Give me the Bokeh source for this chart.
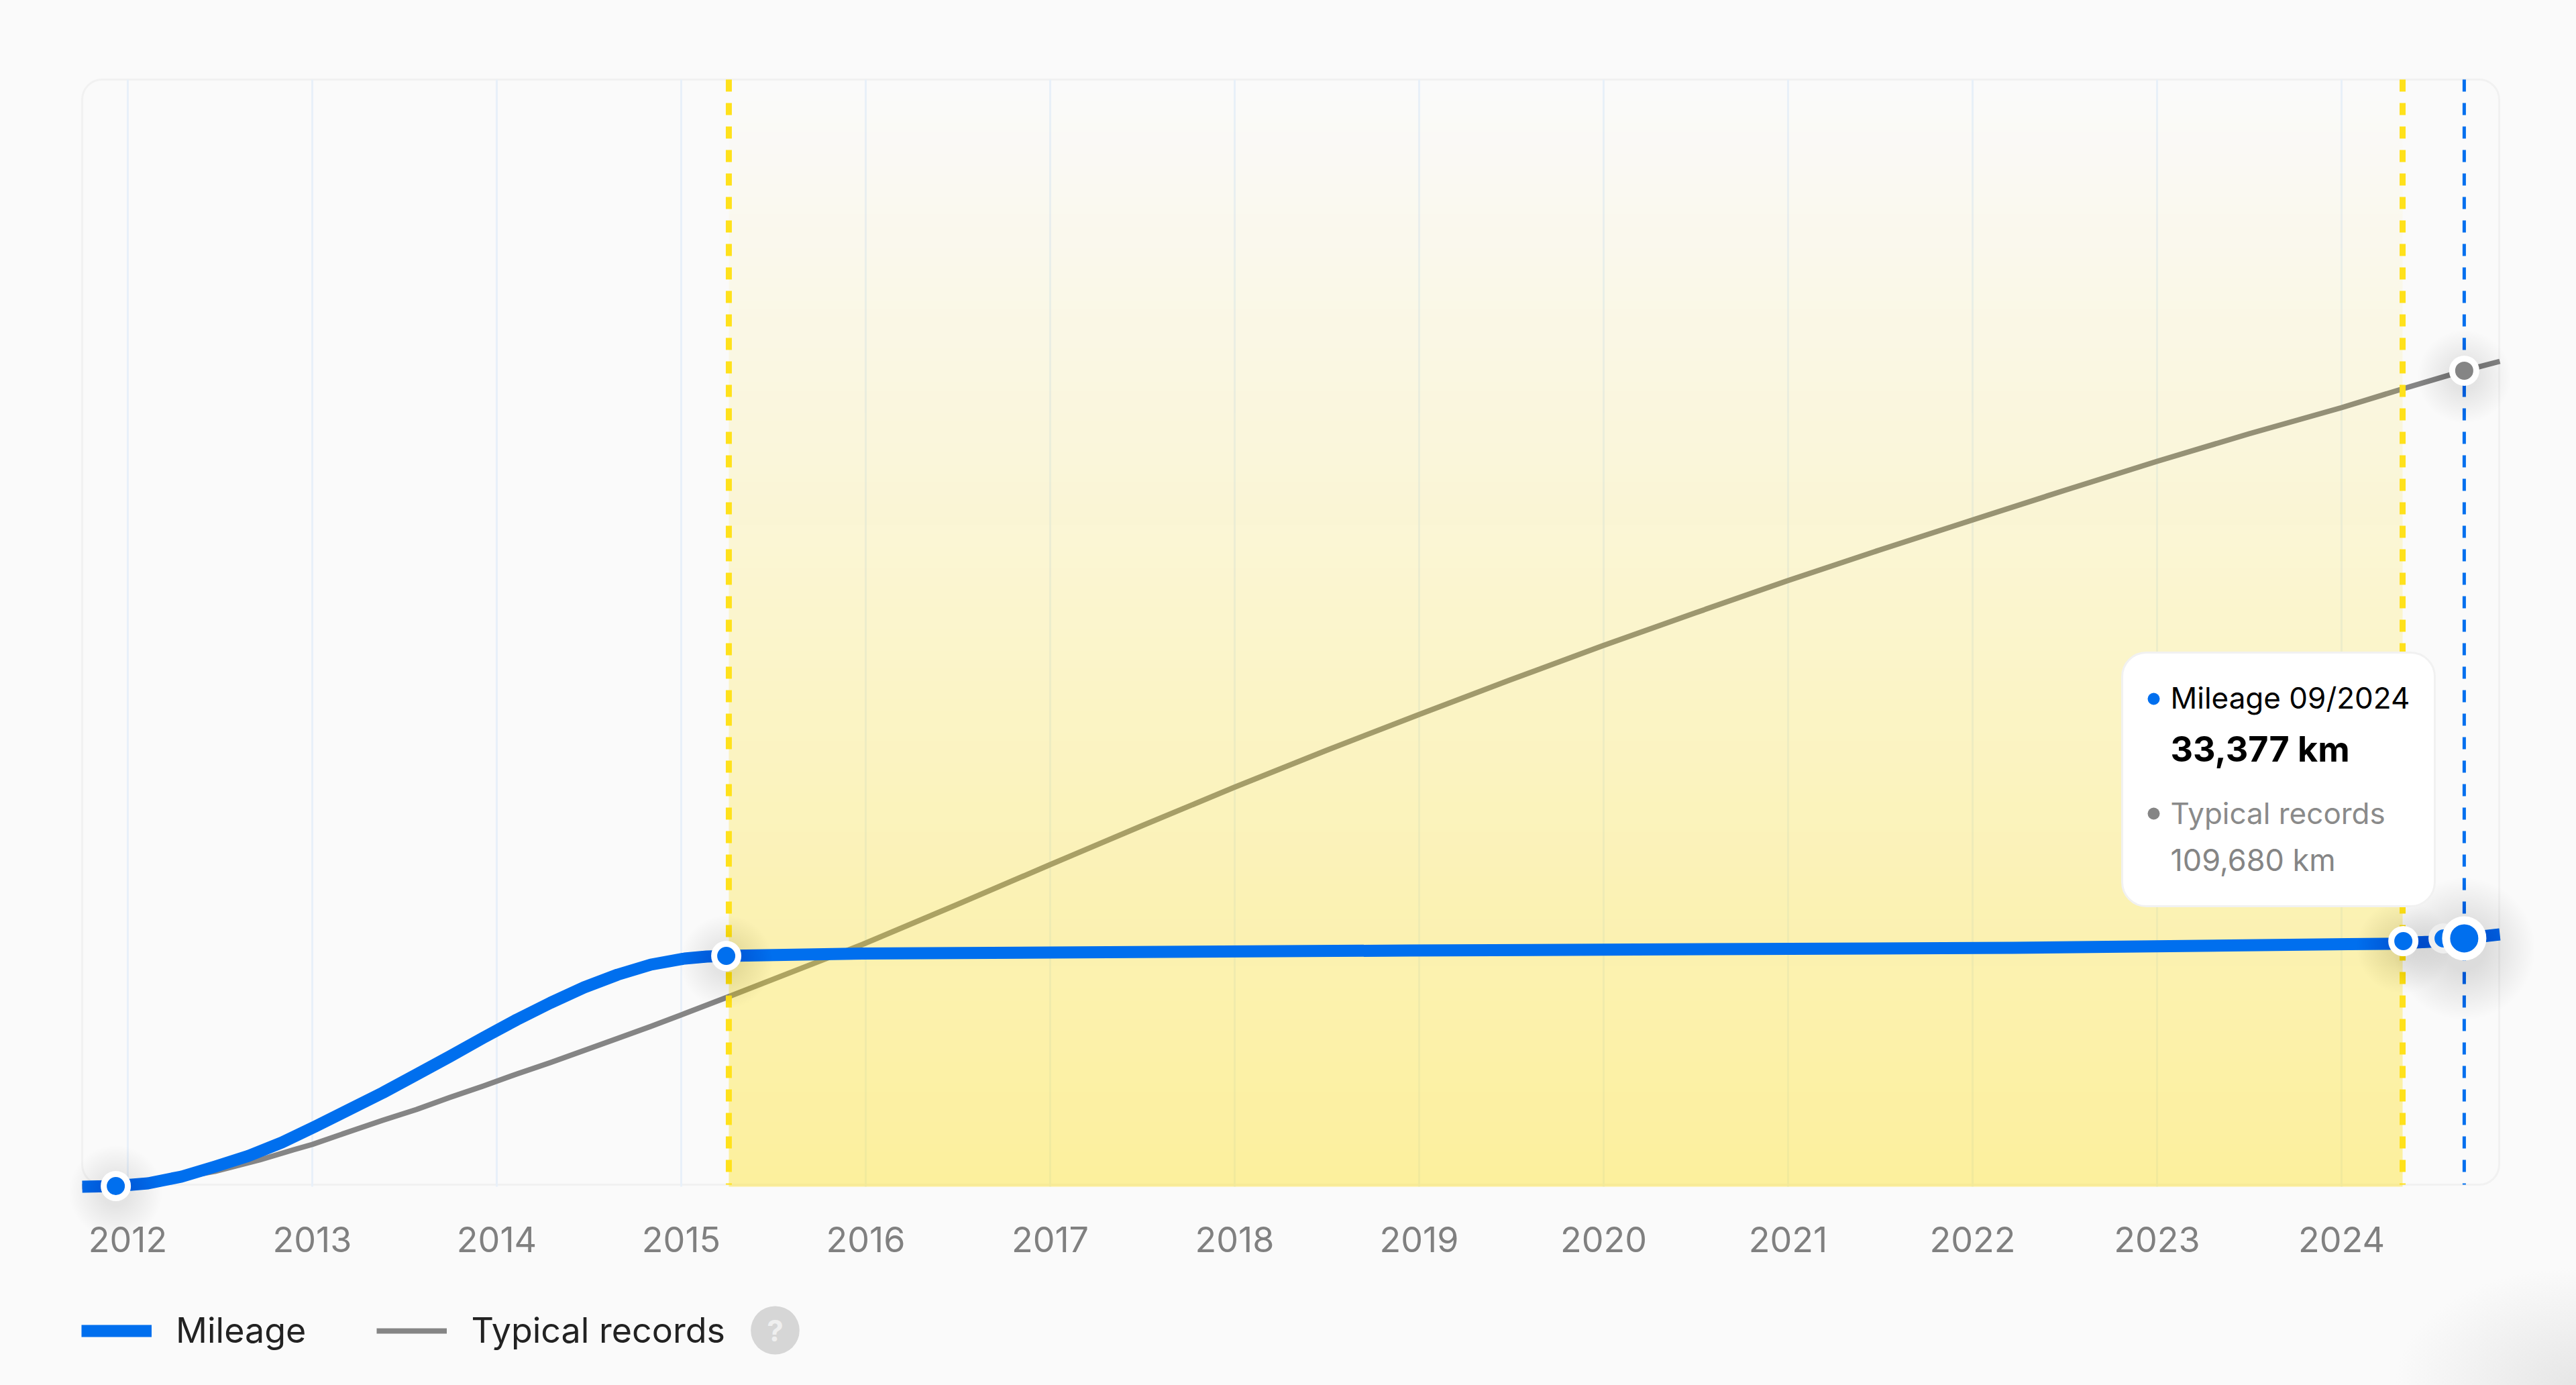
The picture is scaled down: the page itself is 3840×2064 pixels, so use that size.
from bokeh.core.properties import value
from bokeh.embed import file_html
from bokeh.models import (BoxAnnotation, FixedTicker, GlobalInlineStyleSheet, Label, Legend,
                          LegendItem, Range1d)
from bokeh.plotting import figure
from bokeh.resources import INLINE
import numpy as np

# values
tick_years = [2012, 2013, 2014, 2015, 2016, 2017, 2018, 2019, 2020, 2021, 2022, 2023, 2024]

mileage_year = [2011.753, 2011.935, 2012.109, 2012.291, 2012.473, 2012.655, 2012.836, 2013.018,
                2013.200, 2013.382, 2013.564, 2013.745, 2013.927, 2014.109, 2014.291, 2014.473,
                2014.655, 2014.836, 2015.018, 2015.138, 2015.244, 2015.982, 2018.945, 2022.218,
                2024.036, 2024.255, 2024.473, 2024.665, 2024.858]
mileage_km = [0, 90, 451, 1353, 2706, 4149, 5953, 8117,
              10372, 12627, 15062, 17497, 20022, 22457, 24712, 26786,
              28500, 29853, 30665, 30935, 31025, 31341, 31747, 32108,
              32604, 32649, 32919, 33377, 33911]

typical_year = [2011.753, 2011.935, 2012.109, 2012.291, 2012.473, 2012.716, 2012.898, 2013.0,
                2013.2, 2013.382, 2013.564, 2013.745, 2013.927, 2014.109, 2014.291, 2014.473,
                2014.655, 2014.836, 2015.018, 2015.255, 2015.982, 2016.491, 2017.0, 2017.498,
                2017.996, 2018.495, 2018.993, 2019.491, 2019.993, 2020.495, 2020.996, 2021.498,
                2022.004, 2022.502, 2023.0, 2023.498, 2024.0, 2024.331, 2024.665, 2024.858]
typical_km = [0, 90, 541, 1263, 2074, 3608, 4960, 5682,
              7396, 8929, 10372, 11995, 13529, 15152, 16685, 18309,
              19932, 21555, 23269, 25524, 32559, 37880, 43291, 48522,
              53663, 58624, 63404, 68093, 72693, 77112, 81442, 85590,
              89649, 93617, 97495, 101193, 104711, 107236, 109680, 110934]

record_year = [2011.935, 2015.244, 2024.335]
record_km = [90, 31025, 33009]
faded_year = 2024.553
faded_km = 33377
cursor_year = 2024.665
cursor_km = 33377
cursor_typical_km = 109680
band_start = 2015.258
band_end = 2024.331

BLUE = "#006fee"
GREY = "#858585"
YELLOW = "#ffe11b"
FONT = "Inter"


# page pixels to chart units, for the decoration that has no data behind it
def px_x(px):
    return 2012 + (px - 190) / 275


def px_y(py):
    return (1768 - py) * 90.19


page_css = GlobalInlineStyleSheet(css="""
html { height: 100%; background: radial-gradient(ellipse 270px 175px at 100% 100%, #e6e6e6, #fafafa); }
""")

# the frame fills the whole figure, so legend and shadows are not cut at its edge
p = figure(width=3824, height=2048, output_backend="svg", toolbar_location=None,
           x_range=Range1d(px_x(0), px_x(3824)), y_range=Range1d(px_y(2048), px_y(0)),
           y_axis_location=None, tools="",
           min_border_left=0, min_border_right=0, min_border_top=0, min_border_bottom=0)
p.stylesheets = [page_css]
p.grid.visible = False
p.outline_line_color = None
p.background_fill_alpha = 0
p.border_fill_alpha = 0

ax = p.xaxis[0]
ax.fixed_location = 0
ax.ticker = FixedTicker(ticks=tick_years)
ax.axis_line_color = None
ax.major_tick_line_color = None
ax.minor_tick_line_color = None
ax.major_label_text_font = FONT
ax.major_label_text_font_size = "52px"
ax.major_label_text_color = "#808080"
ax.major_label_standoff = 53

# year rules and the rounded box
p.segment(x0=tick_years, x1=tick_years, y0=[px_y(1768)] * 13, y1=[px_y(118)] * 13,
          line_color="#e8f0f9", line_width=3)
p.add_layout(BoxAnnotation(left=px_x(122), right=px_x(3725), top=px_y(118), bottom=px_y(1765),
                           border_radius=30, fill_alpha=0, line_color="#f1f1f1", line_alpha=1,
                           line_width=3, level="underlay"))

typical = p.line(typical_year, typical_km, line_color=GREY, line_width=8, line_join="round")

# yellow band fades out towards the top and lies over the grey line
rows = 256
fade = np.zeros((rows, 1), dtype=np.uint32)
view = fade.view(np.uint8).reshape((rows, 1, 4))
view[:, 0, 0] = 0xff
view[:, 0, 1] = 0xe1
view[:, 0, 2] = 0x1b
view[:, 0, 3] = np.linspace(107, 0, rows).astype(np.uint8)
p.image_rgba(image=[fade], x=band_start, y=0, dw=band_end - band_start, dh=px_y(118))

for when in (band_start, band_end):
    p.line([when, when], [px_y(118), px_y(1765)], line_color=YELLOW, line_width=9, line_dash="18 17")
p.line([cursor_year, cursor_year], [px_y(118), px_y(1765)], line_color=BLUE, line_width=5, line_dash="18 17")

mileage = p.line(mileage_year, mileage_km, line_color=BLUE, line_width=18, line_join="round")

# soft shadows under the dots, pushed a little downwards
for i in range(22):
    p.scatter(record_year + [cursor_year], [k - 800 for k in record_km] + [cursor_typical_km - 800],
              size=44 + i * 4.5, fill_color="#000000", fill_alpha=0.005, line_color=None)
for i in range(30):
    p.scatter([cursor_year], [cursor_km - 1400], size=66 + i * 5, fill_color="#000000", fill_alpha=0.0045,
              line_color=None)

p.scatter([faded_year], [faded_km], size=36, fill_color=BLUE, line_color="#eeeeee", line_width=9)
p.scatter(record_year, record_km, size=36, fill_color=BLUE, line_color="white", line_width=9)
p.scatter([cursor_year], [cursor_typical_km], size=36, fill_color=GREY, line_color="white", line_width=9)
p.scatter([cursor_year], [cursor_km], size=54, fill_color=BLUE, line_color="white", line_width=12)

# tooltip
p.add_layout(BoxAnnotation(left=px_x(3163), right=px_x(3629), top=px_y(972), bottom=px_y(1350),
                           border_radius=36, fill_color="white", fill_alpha=1, line_color="#f1f1f1",
                           line_alpha=1, line_width=3, level="annotation"))
p.scatter([px_x(3210)], [px_y(1041)], size=18, fill_color=BLUE, line_color=None, level="overlay")
p.scatter([px_x(3210)], [px_y(1212)], size=18, fill_color=GREY, line_color=None, level="overlay")
tip_rows = [("Mileage 09/2024", 1039, "44px", "normal", "#000000"),
            ("33,377 km", 1116, "52px", "bold", "#000000"),
            ("Typical records", 1211, "44px", "normal", "#8a8a8a"),
            ("109,680 km", 1281, "45px", "normal", "#858585")]
for text, base, size, style, color in tip_rows:
    p.add_layout(Label(x=px_x(3235), y=px_y(base), text=text, text_font=FONT, text_font_size=size,
                       text_font_style=style, text_color=color, text_baseline="alphabetic",
                       level="overlay"))

# legend and help mark
legend = Legend(items=[LegendItem(label="Mileage", renderers=[mileage]),
                       LegendItem(label="Typical records", renderers=[typical])],
                orientation="horizontal", location=(121, 34), padding=0, margin=0, spacing=105,
                glyph_width=105, glyph_height=50, label_standoff=36, label_height=50,
                label_text_font=FONT, label_text_font_size="52px", label_text_color="#222222",
                border_line_color=None, background_fill_alpha=0)
p.add_layout(legend)

p.add_layout(Label(x=px_x(1155), y=px_y(1982), text="?", text_font=FONT, text_font_size="44px",
                   text_font_style="bold", text_color="#efefef", text_align="center",
                   text_baseline="middle", background_fill_color="#d6d6d6", border_radius=36,
                   padding=(24, 9), level="overlay"))

open("out.html", "w").write(file_html(p, INLINE))
